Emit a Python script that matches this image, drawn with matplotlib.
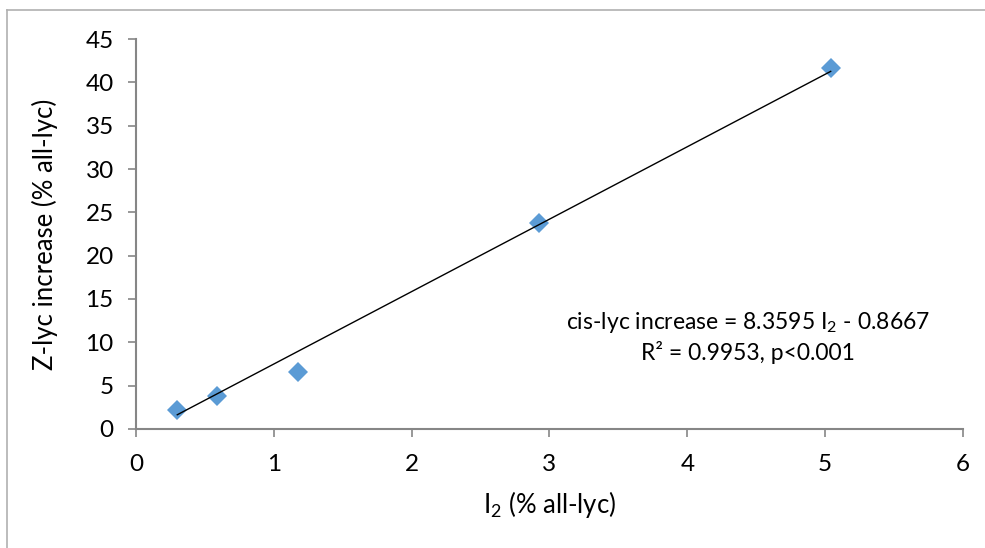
import matplotlib.pyplot as plt
from matplotlib.lines import Line2D

plt.rcParams["font.family"] = ["Lato", "DejaVu Sans"]
plt.rcParams["mathtext.fontset"] = "custom"
plt.rcParams["mathtext.rm"] = "Lato"

# I2 (% all-lyc) vs Z-lyc increase (% all-lyc)
i2_pct = [0.30, 0.59, 1.175, 2.924, 5.04]
z_increase = [2.19, 3.80, 6.58, 23.77, 41.65]

# trendline as reported on the chart
slope = 8.3595
intercept = -0.8667
r_squared = 0.9953

x_ticks = [0, 1, 2, 3, 4, 5, 6]
y_ticks = [0, 5, 10, 15, 20, 25, 30, 35, 40, 45]

axis_grey = "#868686"
marker_blue = "#5B9BD5"
tick_size = 17.5
label_size = 18.5

fig = plt.figure(figsize=(9.85, 5.48), dpi=100)
ax = fig.add_axes([0.138, 0.2172, 0.8397, 0.7116])

# outer chart frame (only the left and top edges are visible)
fig.add_artist(Line2D([0.0071, 0.0071], [0.0, 0.9818], transform=fig.transFigure,
                      color="#B0B0B0", lw=1.2))
fig.add_artist(Line2D([0.0071, 1.0], [0.9818, 0.9818], transform=fig.transFigure,
                      color="#B0B0B0", lw=1.2))

x_fit = [min(i2_pct), max(i2_pct)]
y_fit = [slope * x + intercept for x in x_fit]
ax.plot(x_fit, y_fit, color="black", lw=1.0, zorder=3)

ax.plot(i2_pct, z_increase, linestyle="none", marker="D", ms=10,
        color=marker_blue, markeredgewidth=0, zorder=2)

ax.set_xlim(0, 6)
ax.set_ylim(0, 45)
ax.set_xticks(x_ticks)
ax.set_yticks(y_ticks)

for side in ("top", "right"):
    ax.spines[side].set_visible(False)
for side in ("left", "bottom"):
    ax.spines[side].set_color(axis_grey)
    ax.spines[side].set_linewidth(1.5)

ax.tick_params(axis="both", direction="out", length=6, width=1.2,
               color=axis_grey, labelsize=tick_size)
ax.tick_params(axis="x", pad=12)
ax.tick_params(axis="y", pad=10)

ax.set_xlabel("I$_2$ (% all-lyc)", fontsize=label_size, labelpad=10)
ax.set_ylabel("Z-lyc increase (% all-lyc)", fontsize=label_size, labelpad=20)

ax.text(4.44, 10.6,
        f"cis-lyc increase = {slope} I$_2$ - {abs(intercept)}\n"
        f"R² = {r_squared}, p<0.001",
        ha="center", va="center", fontsize=16.5, linespacing=1.3)

fig.savefig("out.png", dpi=100)
